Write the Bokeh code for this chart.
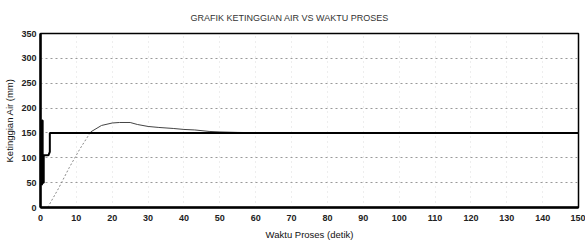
from bokeh.plotting import figure
from bokeh.models import Range1d, FixedTicker
from bokeh.embed import file_html
from bokeh.resources import INLINE

# Data
x_ticks = list(range(0, 151, 10))
y_ticks = list(range(0, 351, 50))

# control / step signal (black)
step_t = [0.4, 0.4, 0.6, 0.6, 0.9, 0.9, 2.2, 2.6, 2.6, 150]
step_y = [45, 175, 175, 50, 50, 105, 105, 112, 150, 150]

# water level rising part (faint dotted)
rise_t = [2, 5, 8, 11, 14]
rise_y = [0, 38, 80, 118, 152]

# water level overshoot and settling
level_t = [14, 17, 20, 22, 25, 27, 30, 33, 37, 40, 43, 47, 50, 55, 60, 70, 80, 150]
level_y = [152, 165, 170, 171, 171, 167, 163, 161, 159, 157, 156, 153, 152, 151, 150.5, 150, 150, 150]

FONT = "Liberation Sans"

p = figure(width=585, height=247, output_backend="svg", toolbar_location=None,
           x_range=Range1d(0, 150), y_range=Range1d(0, 350),
           min_border_left=40, min_border_right=7, min_border_top=30, min_border_bottom=40,
           title="GRAFIK KETINGGIAN AIR VS WAKTU PROSES")
p.title.align = "left"
p.title.offset = 150
p.title.standoff = 21
p.title.text_font = FONT
p.title.text_font_size = "9px"
p.title.text_font_style = "normal"
p.title.text_color = "#333333"

p.outline_line_color = "black"
p.outline_line_width = 1.5

for ax in (p.xaxis, p.yaxis):
    ax.axis_line_width = 2.5
    ax.axis_line_color = "black"
    ax.major_tick_out = 0
    ax.major_tick_in = 0
    ax.minor_tick_out = 0
    ax.minor_tick_in = 0
    ax.major_label_text_font = FONT
    ax.major_label_text_font_size = "9px"
    ax.major_label_text_font_style = "bold"
    ax.major_label_text_color = "#222222"
    ax.axis_label_text_font = FONT
    ax.axis_label_text_font_size = "9.5px"
    ax.axis_label_text_font_style = "normal"
    ax.axis_label_text_color = "#111111"

p.xaxis.ticker = FixedTicker(ticks=x_ticks)
p.yaxis.ticker = FixedTicker(ticks=y_ticks)
p.xaxis.axis_label = "Waktu Proses (detik)"
p.yaxis.axis_label = "Ketinggian Air (mm)"
p.xaxis.major_label_standoff = 7
p.yaxis.major_label_standoff = 4
p.xaxis.axis_label_standoff = 5
p.yaxis.axis_label_standoff = 3

p.ygrid.grid_line_color = "#999999"
p.ygrid.grid_line_dash = "2 3"
p.ygrid.grid_line_width = 1
p.xgrid.grid_line_color = "#dddddd"
p.xgrid.grid_line_dash = "1 4"

p.line(rise_t, rise_y, line_color="#888888", line_width=1, line_dash="2 2")
p.line(level_t, level_y, line_color="#444444", line_width=1)
p.line(step_t, step_y, line_color="black", line_width=2)

open("out.html", "w").write(file_html(p, INLINE))
